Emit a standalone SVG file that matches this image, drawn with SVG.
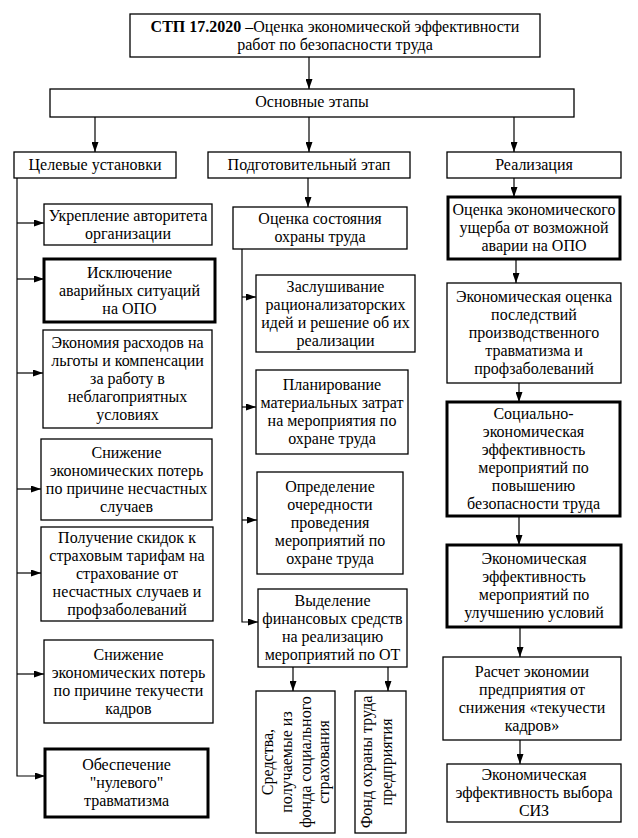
<svg xmlns="http://www.w3.org/2000/svg" width="638" height="838" viewBox="0 0 638 838">
<style>
.t{font-family:"Liberation Serif","Times New Roman",serif;font-size:16px;text-anchor:middle;fill:#000}
.b{fill:#fff;stroke:#000;stroke-width:1.3}
.bt{fill:#fff;stroke:#000;stroke-width:3}
.c{fill:none;stroke:#000;stroke-width:1.2;marker-end:url(#ah)}
.l{fill:none;stroke:#000;stroke-width:1.2}
</style>
<defs>
<marker id="ah" markerUnits="userSpaceOnUse" markerWidth="10" markerHeight="7" refX="10" refY="3.5" orient="auto">
<path d="M0,0 L10,3.5 L0,7 z" fill="#000"/>
</marker>
</defs>
<rect x="0" y="0" width="638" height="838" fill="#fff"/>

<g id="connectors">
<path class="c" d="M309,57 V89"/>
<path class="c" d="M95,117 V152"/>
<path class="c" d="M309,117 V152"/>
<path class="c" d="M514,117 V152"/>
<path class="c" d="M308,178 V207"/>
<path class="c" d="M514,178 V197"/>
<path class="c" d="M17,178 V776 H45"/>
<path class="c" d="M17,223 H44"/>
<path class="c" d="M17,279 H44"/>
<path class="c" d="M17,373 H43"/>
<path class="c" d="M17,489 H41"/>
<path class="c" d="M17,573 H41"/>
<path class="c" d="M17,674 H44"/>
<path class="c" d="M242,249 V622 H258"/>
<path class="c" d="M242,297 H256"/>
<path class="c" d="M242,407 H256"/>
<path class="c" d="M242,520 H257"/>
<path class="c" d="M293,667 V691"/>
<path class="c" d="M388,667 V691"/>
<path class="c" d="M516,259 V283"/>
<path class="c" d="M519,383 V402"/>
<path class="c" d="M519,516 V545"/>
<path class="c" d="M520,627 V657"/>
<path class="c" d="M520,740 V764"/>
</g>

<g id="title">
<rect class="b" x="130" y="14" width="410" height="43"/>
<text class="t" x="335" y="32"><tspan font-weight="bold">СТП 17.2020</tspan> –Оценка экономической эффективности</text>
<text class="t" x="335" y="50">работ по безопасности труда</text>
</g>
<g id="main-stages">
<rect class="b" x="50" y="89" width="524" height="28"/>
<text class="t" x="312" y="107">Основные этапы</text>
</g>
<g id="targets">
<rect class="b" x="14" y="152" width="162" height="26"/>
<text class="t" x="95" y="170">Целевые установки</text>
</g>
<g id="prep">
<rect class="b" x="208" y="152" width="202" height="26"/>
<text class="t" x="309" y="170">Подготовительный этап</text>
</g>
<g id="realization">
<rect class="b" x="447" y="152" width="174" height="26"/>
<text class="t" x="534" y="170">Реализация</text>
</g>

<g id="l1">
<rect class="b" x="44" y="204" width="168" height="41"/>
<text class="t" x="128" y="220.5">Укрепление авторитета</text>
<text class="t" x="128" y="238.5">организации</text>
</g>
<g id="l2">
<rect class="bt" x="44" y="259" width="171" height="63"/>
<text class="t" x="129.5" y="277.5">Исключение</text>
<text class="t" x="129.5" y="295.5">аварийных ситуаций</text>
<text class="t" x="129.5" y="313.5">на ОПО</text>
</g>
<g id="l3">
<rect class="b" x="43" y="330" width="169" height="98"/>
<text class="t" x="127.5" y="348">Экономия расходов на</text>
<text class="t" x="127.5" y="366">льготы и компенсации</text>
<text class="t" x="127.5" y="384">за работу в</text>
<text class="t" x="127.5" y="402">неблагоприятных</text>
<text class="t" x="127.5" y="420">условиях</text>
</g>
<g id="l4">
<rect class="b" x="41" y="439" width="171" height="81"/>
<text class="t" x="126.5" y="457.5">Снижение</text>
<text class="t" x="126.5" y="475.5">экономических потерь</text>
<text class="t" x="126.5" y="493.5">по причине несчастных</text>
<text class="t" x="126.5" y="511.5">случаев</text>
</g>
<g id="l5">
<rect class="b" x="41" y="527" width="172" height="94"/>
<text class="t" x="127" y="543">Получение скидок к</text>
<text class="t" x="127" y="561">страховым тарифам на</text>
<text class="t" x="127" y="579">страхование от</text>
<text class="t" x="127" y="597">несчастных случаев и</text>
<text class="t" x="127" y="615">профзаболеваний</text>
</g>
<g id="l6">
<rect class="b" x="44" y="640" width="169" height="83"/>
<text class="t" x="128.5" y="659.5">Снижение</text>
<text class="t" x="128.5" y="677.5">экономических потерь</text>
<text class="t" x="128.5" y="695.5">по причине текучести</text>
<text class="t" x="128.5" y="713.5">кадров</text>
</g>
<g id="l7">
<rect class="bt" x="45" y="749" width="163" height="68"/>
<text class="t" x="126.5" y="770">Обеспечение</text>
<text class="t" x="126.5" y="788">"нулевого"</text>
<text class="t" x="126.5" y="806">травматизма</text>
</g>

<g id="m0">
<rect class="b" x="233" y="207" width="174" height="42"/>
<text class="t" x="320" y="224">Оценка состояния</text>
<text class="t" x="320" y="242">охраны труда</text>
</g>
<g id="m1">
<rect class="b" x="256" y="275" width="159" height="77"/>
<text class="t" x="335.5" y="291.5">Заслушивание</text>
<text class="t" x="335.5" y="309.5">рационализаторских</text>
<text class="t" x="335.5" y="327.5">идей и решение об их</text>
<text class="t" x="335.5" y="345.5">реализации</text>
</g>
<g id="m2">
<rect class="b" x="256" y="370" width="152" height="84"/>
<text class="t" x="332" y="390">Планирование</text>
<text class="t" x="332" y="408">материальных затрат</text>
<text class="t" x="332" y="426">на мероприятия по</text>
<text class="t" x="332" y="444">охране труда</text>
</g>
<g id="m3">
<rect class="b" x="257" y="472" width="146" height="102"/>
<text class="t" x="330" y="492">Определение</text>
<text class="t" x="330" y="510">очередности</text>
<text class="t" x="330" y="528">проведения</text>
<text class="t" x="330" y="546">мероприятий по</text>
<text class="t" x="330" y="564">охране труда</text>
</g>
<g id="m4">
<rect class="b" x="258" y="589" width="149" height="78"/>
<text class="t" x="332.5" y="606">Выделение</text>
<text class="t" x="332.5" y="624">финансовых средств</text>
<text class="t" x="332.5" y="642">на реализацию</text>
<text class="t" x="332.5" y="660">мероприятий по ОТ</text>
</g>
<g id="m5">
<rect class="b" x="256" y="691" width="79" height="142"/>
<text class="t" transform="translate(268,762) rotate(-90)" y="5">Средства,</text>
<text class="t" transform="translate(287,762) rotate(-90)" y="5">получаемые из</text>
<text class="t" transform="translate(306,762) rotate(-90)" y="5">фонда социального</text>
<text class="t" transform="translate(324,762) rotate(-90)" y="5">страхования</text>
</g>
<g id="m6">
<rect class="b" x="355" y="691" width="51" height="142"/>
<text class="t" transform="translate(367,762) rotate(-90)" y="5">Фонд охраны труда</text>
<text class="t" transform="translate(387,762) rotate(-90)" y="5">предприятия</text>
</g>

<g id="r1">
<rect class="bt" x="448" y="197" width="172" height="62"/>
<text class="t" x="534" y="215">Оценка экономического</text>
<text class="t" x="534" y="233">ущерба от возможной</text>
<text class="t" x="534" y="251">аварии на ОПО</text>
</g>
<g id="r2">
<rect class="b" x="447" y="283" width="174" height="100"/>
<text class="t" x="534" y="302">Экономическая оценка</text>
<text class="t" x="534" y="320">последствий</text>
<text class="t" x="534" y="338">производственного</text>
<text class="t" x="534" y="356">травматизма и</text>
<text class="t" x="534" y="374">профзаболеваний</text>
</g>
<g id="r3">
<rect class="bt" x="447" y="402" width="173" height="114"/>
<text class="t" x="533.5" y="419">Социально-</text>
<text class="t" x="533.5" y="437">экономическая</text>
<text class="t" x="533.5" y="455">эффективность</text>
<text class="t" x="533.5" y="473">мероприятий по</text>
<text class="t" x="533.5" y="491">повышению</text>
<text class="t" x="533.5" y="509">безопасности труда</text>
</g>
<g id="r4">
<rect class="bt" x="447" y="545" width="174" height="82"/>
<text class="t" x="534" y="564">Экономическая</text>
<text class="t" x="534" y="582">эффективность</text>
<text class="t" x="534" y="600">мероприятий по</text>
<text class="t" x="534" y="618">улучшению условий</text>
</g>
<g id="r5">
<rect class="b" x="443" y="657" width="178" height="83"/>
<text class="t" x="532" y="676.5">Расчет экономии</text>
<text class="t" x="532" y="694.5">предприятия от</text>
<text class="t" x="532" y="712.5">снижения «текучести</text>
<text class="t" x="532" y="730.5">кадров»</text>
</g>
<g id="r6">
<rect class="b" x="447" y="764" width="174" height="58"/>
<text class="t" x="534" y="780">Экономическая</text>
<text class="t" x="534" y="798">эффективность выбора</text>
<text class="t" x="534" y="816">СИЗ</text>
</g>
</svg>
